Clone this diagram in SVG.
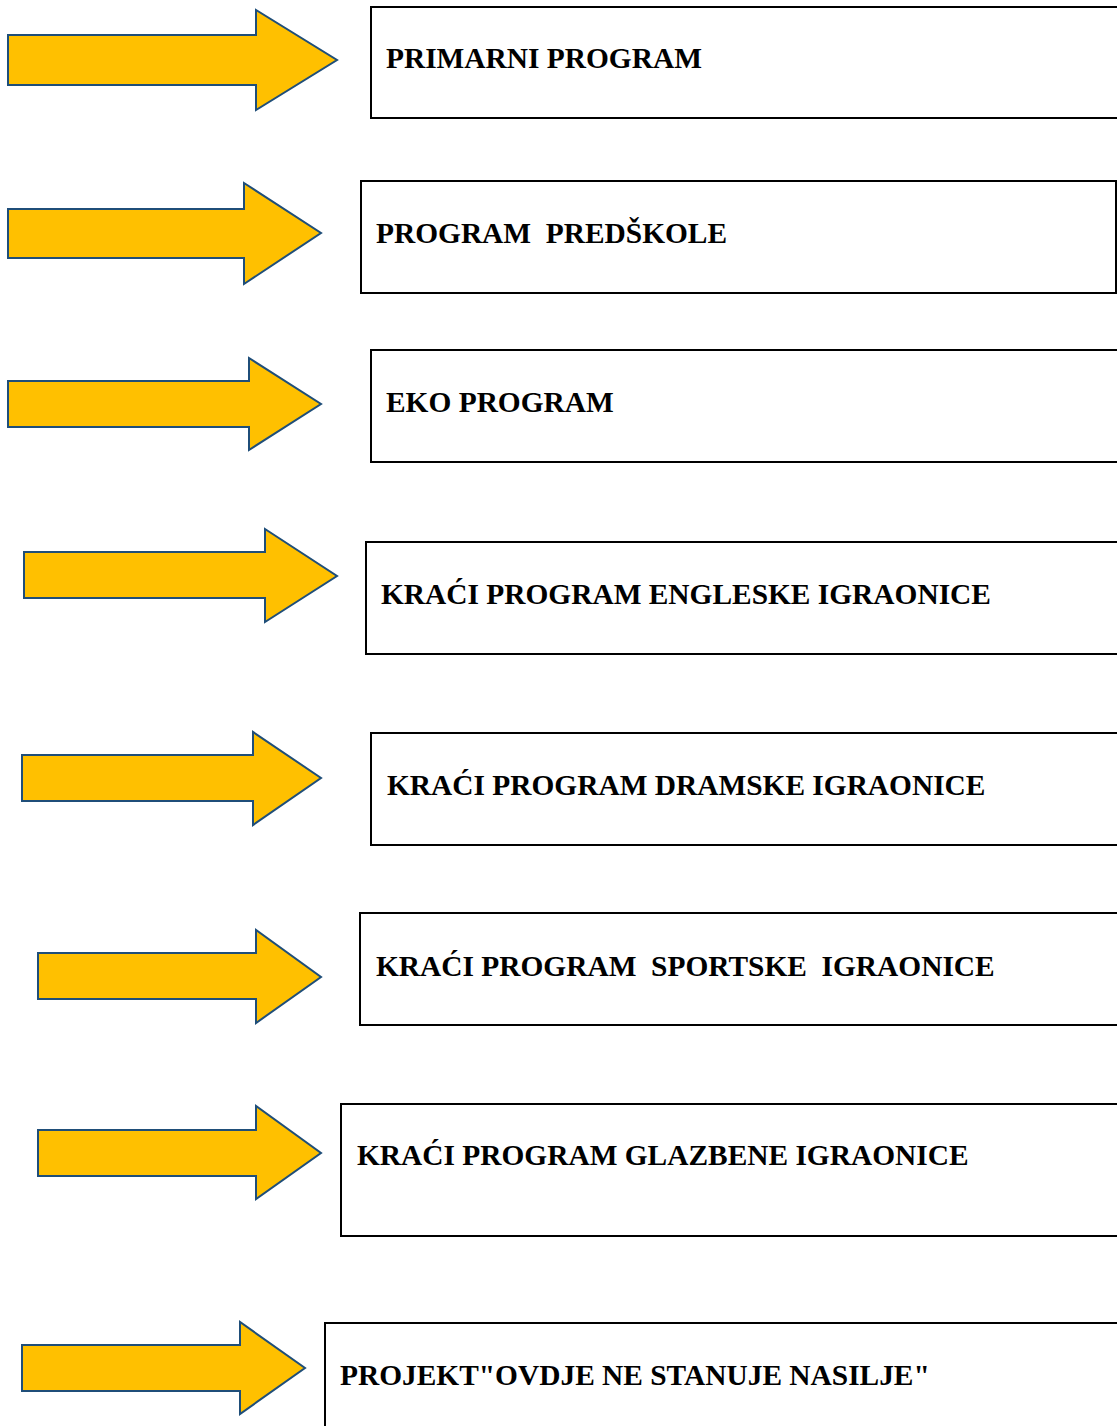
<svg xmlns="http://www.w3.org/2000/svg" width="1117" height="1426" viewBox="0 0 1117 1426">
<style>
.arrow{fill:#FFC000;stroke:#1F4E79;stroke-width:2;stroke-linejoin:miter}
.box{fill:#FFFFFF;stroke:#000000;stroke-width:2}
.lbl{font-family:"Liberation Serif","Times New Roman",serif;font-weight:bold;font-size:29.4px;fill:#000000;white-space:pre}
</style>
<rect width="1117" height="1426" fill="#FFFFFF"/>
<g id="connectors">
<polygon class="arrow" points="8,35 256,35 256,10 337,60 256,110 256,85 8,85"/>
<polygon class="arrow" points="8,209 244,209 244,183 321,233 244,284 244,258 8,258"/>
<polygon class="arrow" points="8,381 249,381 249,358 321,404 249,450 249,427 8,427"/>
<polygon class="arrow" points="24,552 265,552 265,529 337,576 265,622 265,598 24,598"/>
<polygon class="arrow" points="22,755 253,755 253,732 321,778 253,825 253,801 22,801"/>
<polygon class="arrow" points="38,953 256,953 256,930 321,977 256,1023 256,999 38,999"/>
<polygon class="arrow" points="38,1130 256,1130 256,1106 321,1153 256,1199 256,1176 38,1176"/>
<polygon class="arrow" points="22,1345 240,1345 240,1322 305,1368 240,1414 240,1391 22,1391"/>
</g>
<g id="node1">
<rect class="box" x="371" y="7" width="760" height="111"/>
<text class="lbl" x="386" y="68">PRIMARNI PROGRAM</text>
</g>
<g id="node2">
<rect class="box" x="361" y="181" width="755" height="112"/>
<text class="lbl" x="376" y="243" xml:space="preserve">PROGRAM  PREDŠKOLE</text>
</g>
<g id="node3">
<rect class="box" x="371" y="350" width="760" height="112"/>
<text class="lbl" x="386" y="412">EKO PROGRAM</text>
</g>
<g id="node4">
<rect class="box" x="366" y="542" width="765" height="112"/>
<text class="lbl" x="381" y="604">KRAĆI PROGRAM ENGLESKE IGRAONICE</text>
</g>
<g id="node5">
<rect class="box" x="371" y="733" width="760" height="112"/>
<text class="lbl" x="387" y="795">KRAĆI PROGRAM DRAMSKE IGRAONICE</text>
</g>
<g id="node6">
<rect class="box" x="360" y="913" width="771" height="112"/>
<text class="lbl" x="376" y="976" xml:space="preserve">KRAĆI PROGRAM  SPORTSKE  IGRAONICE</text>
</g>
<g id="node7">
<rect class="box" x="341" y="1104" width="790" height="132"/>
<text class="lbl" x="357" y="1165">KRAĆI PROGRAM GLAZBENE IGRAONICE</text>
</g>
<g id="node8">
<rect class="box" x="325" y="1323" width="806" height="120"/>
<text class="lbl" x="340" y="1385">PROJEKT&quot;OVDJE NE STANUJE NASILJE&quot;</text>
</g>
</svg>
